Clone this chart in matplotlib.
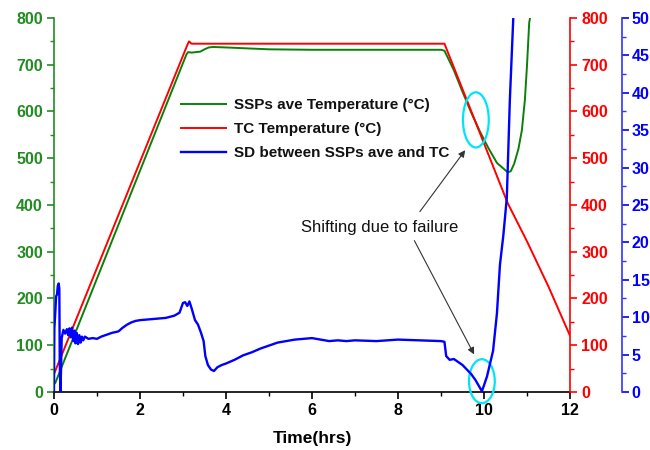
import matplotlib
matplotlib.use("Agg")
import matplotlib.pyplot as plt
from matplotlib.patches import Ellipse
from matplotlib.ticker import MultipleLocator

plt.rcParams['font.family'] = ['Liberation Sans', 'DejaVu Sans']

# SSPs average temperature (left axis, degC)
green_t = [0, 0.03, 3.08, 3.12, 3.2, 3.3, 3.4, 3.5, 3.6, 3.7, 4.0, 4.5, 5.0, 6.0, 7.0,
           8.0, 9.0, 9.08, 9.3, 9.5, 9.7, 9.9, 10.1, 10.3, 10.45, 10.55, 10.62, 10.7,
           10.8, 10.88, 10.95, 11.0, 11.05, 11.07]
green_v = [18, 19, 722, 727, 726, 727, 728, 733, 737, 738, 737, 735, 733, 732, 732,
           732, 732, 730, 688, 642, 598, 558, 522, 490, 478, 470, 472, 488,
           520, 560, 625, 700, 790, 800]

# TC temperature (red axis, degC)
red_t = [0, 3.1, 3.14, 3.2, 5, 7, 9.08, 10.55, 11.0, 11.5, 12.0]
red_v = [38, 742, 750, 745, 745, 745, 745, 404, 322, 225, 120]

# SD between SSPs ave and TC (blue axis)
blue_t = [0, 0.01, 0.03, 0.05, 0.07, 0.09, 0.11, 0.125, 0.135, 0.15, 0.165, 0.18,
          0.22, 0.26, 0.3, 0.33, 0.36, 0.39, 0.42, 0.45, 0.48, 0.5, 0.53, 0.56, 0.59,
          0.62, 0.65, 0.68, 0.72, 0.8, 0.9, 1.0, 1.1, 1.2, 1.35, 1.5, 1.6, 1.7, 1.8,
          1.9, 2.0, 2.2, 2.4, 2.6, 2.8, 2.92, 3.0, 3.05, 3.1, 3.15, 3.2, 3.28, 3.35,
          3.42, 3.48, 3.52, 3.58, 3.65, 3.72, 3.8, 3.9, 4.0, 4.2, 4.4, 4.6, 4.8, 5.0,
          5.2, 5.4, 5.6, 5.8, 6.0, 6.2, 6.4, 6.6, 6.8, 7.0, 7.5, 8.0, 8.5, 9.0, 9.08,
          9.12, 9.2, 9.3, 9.4, 9.5, 9.6, 9.7, 9.8, 9.9, 9.95, 10.0, 10.07, 10.14,
          10.21, 10.3, 10.37, 10.45, 10.53, 10.6, 10.68]
blue_v = [0, 8.5, 10.5, 12.8, 13.0, 14.2, 14.5, 13.8, 4, 0, 3, 7.2,
          8.3, 7.8, 8.4, 7.6, 8.5, 7.3, 8.6, 6.8, 8.2, 6.5, 7.9, 6.4, 7.6,
          6.6, 7.4, 6.9, 7.4, 7.1, 7.2, 7.1, 7.4, 7.6, 7.9, 8.1, 8.6, 9.0, 9.3,
          9.5, 9.6, 9.7, 9.8, 9.9, 10.2, 10.6, 11.9, 12.0, 11.5, 12.1, 11.2, 9.6, 9.0,
          7.9, 6.8, 4.8, 3.6, 3.0, 2.8, 3.3, 3.6, 3.8, 4.3, 4.9, 5.3, 5.8, 6.2,
          6.6, 6.8, 7.0, 7.1, 7.2, 7.0, 6.8, 6.9, 6.8, 6.9, 6.8, 7.0, 6.9, 6.8, 6.7,
          4.8, 4.3, 4.4, 4.0, 3.6, 3.0, 2.4, 1.6, 0.6, 0.1, 0.9, 2.1, 3.8,
          5.5, 10.5, 17, 21, 26, 39, 50]

c_green = '#0a800a'
c_gtext = '#228b22'
c_red = '#ff0000'
c_blue = '#0000ff'
c_cyan = '#00e5f5'

fig = plt.figure(figsize=(6.5, 4.5), dpi=100)
ax = fig.add_axes([0.083, 0.129, 0.794, 0.831])
ax2 = ax.twinx()
ax3 = ax.twinx()

l1, = ax.plot(green_t, green_v, color=c_green, lw=1.4, label='SSPs ave Temperature (°C)')
l2, = ax2.plot(red_t, red_v, color=c_red, lw=1.4, label='TC Temperature (°C)')
l3, = ax3.plot(blue_t, blue_v, color=c_blue, lw=1.7, label='SD between SSPs ave and TC')

ax.set_xlim(0, 12)
ax.set_ylim(0, 800)
ax2.set_ylim(0, 800)
ax3.set_ylim(0, 50)

ax.xaxis.set_major_locator(MultipleLocator(2))
ax.xaxis.set_minor_locator(MultipleLocator(1))
for a in (ax, ax2):
    a.yaxis.set_major_locator(MultipleLocator(100))
    a.yaxis.set_minor_locator(MultipleLocator(50))
ax3.yaxis.set_major_locator(MultipleLocator(5))
ax3.yaxis.set_minor_locator(MultipleLocator(2.5))

for a in (ax, ax2, ax3):
    a.spines['top'].set_visible(False)
ax.spines['right'].set_visible(False)
ax2.spines['left'].set_visible(False)
ax3.spines['left'].set_visible(False)
ax2.spines['bottom'].set_visible(False)
ax3.spines['bottom'].set_visible(False)

ax.spines['left'].set_color(c_gtext)
ax.spines['left'].set_linewidth(1.2)
ax.spines['bottom'].set_linewidth(1.2)
ax2.spines['right'].set_color(c_red)
ax2.spines['right'].set_linewidth(1.2)
ax3.spines['right'].set_position(('outward', 37.5))
ax3.spines['right'].set_color('#3333ff')
ax3.spines['right'].set_linewidth(1.2)

tick_font = dict(labelsize=11.5)
ax.tick_params(axis='x', which='major', direction='out', length=5, width=1.2, pad=3, **tick_font)
ax.tick_params(axis='x', which='minor', direction='out', length=3, width=1)
ax.tick_params(axis='y', which='major', direction='out', length=5, width=1.2, colors=c_gtext, pad=3, **tick_font)
ax.tick_params(axis='y', which='minor', direction='out', length=3, width=1, colors=c_gtext)
ax2.tick_params(axis='y', which='major', direction='out', length=5, width=1.2, colors=c_red, pad=3, **tick_font)
ax2.tick_params(axis='y', which='minor', direction='out', length=3, width=1, colors=c_red)
ax3.tick_params(axis='y', which='major', direction='out', length=5, width=1.2, colors=c_blue, pad=2, **tick_font)
ax3.tick_params(axis='y', which='minor', direction='out', length=3, width=1, colors='#3333ff')
for a in (ax, ax2, ax3):
    for lab in a.get_xticklabels() + a.get_yticklabels():
        lab.set_fontweight('bold')

ax.set_xlabel('Time(hrs)', fontsize=12.5, fontweight='bold', labelpad=9)

leg = ax3.legend(handles=[l1, l2, l3], loc='upper left', bbox_to_anchor=(0.235, 0.802),
                 frameon=False, fontsize=11, handlelength=2.9, handletextpad=0.55,
                 labelspacing=0.65, borderaxespad=0)
for txt in leg.get_texts():
    txt.set_fontweight('bold')
    txt.set_color('#111111')

# failure markers
ax3.add_patch(Ellipse((9.81, 582), 0.6, 118, transform=ax.transData, fill=False,
                      edgecolor=c_cyan, lw=1.6))
ax3.add_patch(Ellipse((9.95, 23), 0.6, 94, transform=ax.transData, fill=False,
                      edgecolor=c_cyan, lw=1.6, clip_on=False))

ax3.text(7.58, 351, 'Shifting due to failure', transform=ax.transData, fontsize=12,
         ha='center', va='center', color='#111111')
arrow = dict(arrowstyle='-|>', color='#333333', lw=0.8, mutation_scale=10)
ax3.annotate('', xy=(9.6, 522), xytext=(8.47, 381), xycoords=ax.transData,
             textcoords=ax.transData, arrowprops=arrow)
ax3.annotate('', xy=(9.8, 75), xytext=(8.35, 329), xycoords=ax.transData,
             textcoords=ax.transData, arrowprops=arrow)

fig.savefig('out.png', dpi=100)
